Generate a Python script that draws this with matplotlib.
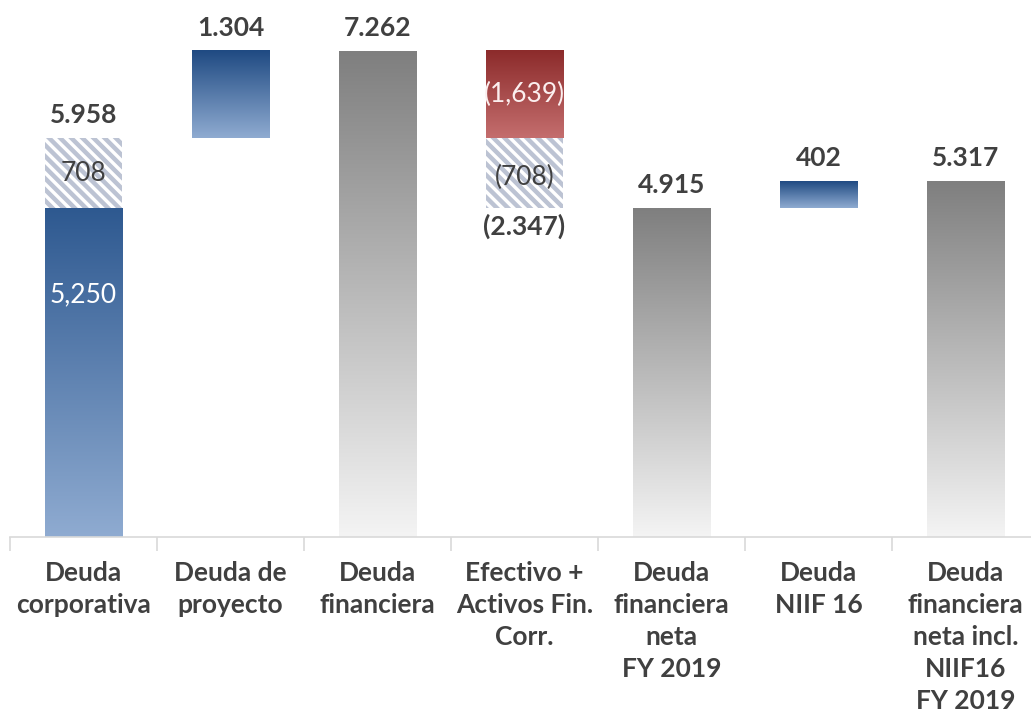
import numpy as np
import matplotlib
matplotlib.use("Agg")
import matplotlib.pyplot as plt
from matplotlib.colors import LinearSegmentedColormap

plt.rcParams['font.family'] = ['Lato', 'DejaVu Sans']
plt.rcParams['hatch.linewidth'] = 3.2

categories = ["Deuda\ncorporativa", "Deuda de\nproyecto", "Deuda\nfinanciera",
              "Efectivo +\nActivos Fin.\nCorr.", "Deuda\nfinanciera\nneta\nFY 2019",
              "Deuda\nNIIF 16", "Deuda\nfinanciera\nneta incl.\nNIIF16\nFY 2019"]

# levels of the waterfall as drawn in the picture
corp_base = 4915
corp_hatch = 1043
project = 1304
gross = 7262
cash_red = 1304
cash_hatch = 1043
net = 4915
niif = 402
net_incl = 5317

# text labels
top_labels = ["5.958", "1.304", "7.262", None, "4.915", "402", "5.317"]
cash_total_label = "(2.347)"
corp_base_label = "5,250"
corp_hatch_label = "708"
cash_red_label = "(1,639)"
cash_hatch_label = "(708)"

BLUE = ("#1f4a82", "#8fabd1")
GREY = ("#7f7f7f", "#f4f4f4")
RED = ("#8c2b2b", "#c46e6e")
TXT = "#404040"
W = 0.524

fig = plt.figure(figsize=(10.31, 7.18), dpi=100)
ax = fig.add_axes([10 / 1031, 181 / 718, 1021 / 1031, 537 / 718])

def grad_bar(x, bottom, height, colors):
    cmap = LinearSegmentedColormap.from_list("g", [colors[1], colors[0]])
    grad = np.linspace(0, 1, 256).reshape(-1, 1)
    ax.imshow(grad, cmap=cmap, origin="lower", aspect="auto", zorder=2,
              extent=(x - W / 2, x + W / 2, bottom, bottom + height),
              interpolation="bilinear")

def hatch_bar(x, bottom, height):
    ax.bar(x, height, bottom=bottom, width=W, color="white", edgecolor="#bcc3d3",
           hatch="\\\\\\", linewidth=0, zorder=2)

# bars
grad_bar(0, 0, corp_base, ("#2e5990", BLUE[1]))
hatch_bar(0, corp_base, corp_hatch)
grad_bar(1, corp_base + corp_hatch, project, BLUE)
grad_bar(2, 0, gross, GREY)
grad_bar(3, gross - cash_red, cash_red, RED)
hatch_bar(3, gross - cash_red - cash_hatch, cash_hatch)
grad_bar(4, 0, net, GREY)
grad_bar(5, net, niif, BLUE)
grad_bar(6, 0, net_incl, GREY)

tops = [corp_base + corp_hatch, gross, gross, None, net, net + niif, net_incl]
fs = 19
for i, (t, lab) in enumerate(zip(tops, top_labels)):
    if lab is None:
        continue
    ax.annotate(lab, (i, t), xytext=(0, 8), textcoords="offset points",
                ha="center", va="bottom", fontsize=fs, fontweight="bold", color=TXT)

ax.annotate(cash_total_label, (3, gross - cash_red - cash_hatch), xytext=(0, -4),
            textcoords="offset points", ha="center", va="top",
            fontsize=fs, fontweight="bold", color=TXT)

ax.text(0, corp_base + corp_hatch / 2, corp_hatch_label, ha="center", va="center",
        fontsize=fs, color=TXT, zorder=3)
ax.text(0, 3620, corp_base_label, ha="center", va="center", fontsize=fs,
        color="white", zorder=3)
ax.text(3, gross - cash_red / 2, cash_red_label, ha="center", va="center",
        fontsize=fs, color="#fbeeee", zorder=3)
ax.text(3, gross - cash_red - cash_hatch / 2 - 60, cash_hatch_label, ha="center",
        va="center", fontsize=fs, color=TXT, zorder=3)

for s in ["top", "right", "left"]:
    ax.spines[s].set_visible(False)
ax.spines["bottom"].set_color("#d9d9d9")
ax.spines["bottom"].set_linewidth(1.2)
ax.set_yticks([])
ax.set_xticks(range(len(categories)))
ax.set_xticklabels(categories, fontsize=fs, fontweight="bold", color=TXT,
                   linespacing=1.4)
ax.tick_params(axis="x", which="major", length=0, pad=17)
ax.set_xticks(np.arange(-0.5, 7, 1), minor=True)
ax.tick_params(axis="x", which="minor", length=10, color="#d9d9d9", width=1.2)

ax.set_xlim(-0.5, -0.5 + 1021 / 147)
ax.set_ylim(0, 537 / (486 / 7262))

fig.savefig("out.png", dpi=100)
